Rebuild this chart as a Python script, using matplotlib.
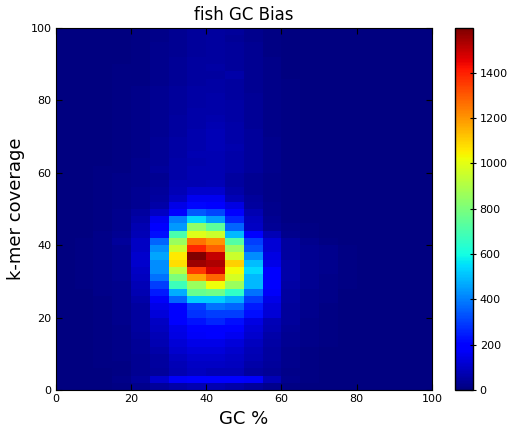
import numpy as np
import matplotlib
matplotlib.use("Agg")
from matplotlib import pyplot as plt

# GC % bins (5 wide) and k-mer coverage bins (2 wide)
gc_edges = np.arange(0, 101, 5)
cov_edges = np.arange(0, 101, 2)

# counts, one row per coverage bin, written from top (98-100) down to bottom (0-2)
counts_top_down = [
    [2, 3, 4, 6, 10, 18, 30, 40, 48, 40, 25, 12, 6, 4, 3, 2, 2, 1, 1, 1],
    [2, 3, 4, 6, 10, 18, 30, 40, 46, 38, 24, 12, 6, 4, 3, 2, 2, 1, 1, 1],
    [2, 3, 4, 7, 11, 20, 32, 44, 50, 42, 26, 13, 6, 4, 3, 2, 2, 1, 1, 1],
    [2, 3, 4, 7, 11, 20, 32, 44, 48, 42, 26, 13, 6, 4, 3, 2, 2, 1, 1, 1],
    [2, 3, 5, 7, 12, 22, 34, 46, 50, 40, 28, 14, 7, 4, 3, 2, 2, 1, 1, 1],
    [2, 3, 5, 8, 12, 22, 34, 48, 52, 44, 28, 14, 7, 4, 3, 2, 2, 1, 1, 1],
    [2, 3, 5, 8, 13, 24, 36, 48, 50, 60, 30, 15, 7, 5, 3, 2, 2, 1, 1, 1],
    [2, 3, 5, 8, 13, 24, 38, 50, 54, 46, 32, 15, 8, 5, 3, 2, 2, 1, 1, 1],
    [2, 3, 5, 8, 14, 26, 40, 52, 56, 48, 32, 16, 8, 5, 3, 2, 2, 1, 1, 1],
    [2, 3, 5, 9, 14, 26, 40, 54, 58, 50, 34, 16, 8, 5, 3, 2, 2, 1, 1, 1],
    [2, 3, 6, 9, 15, 28, 44, 56, 58, 52, 34, 17, 8, 5, 4, 2, 2, 1, 1, 1],
    [2, 3, 6, 9, 15, 28, 44, 58, 62, 54, 36, 17, 9, 5, 4, 2, 2, 1, 1, 1],
    [2, 3, 6, 10, 16, 30, 46, 60, 66, 56, 36, 18, 9, 5, 4, 2, 2, 1, 1, 1],
    [2, 3, 6, 10, 16, 30, 48, 62, 70, 58, 38, 18, 9, 6, 4, 2, 2, 1, 1, 1],
    [2, 4, 6, 10, 17, 32, 50, 66, 76, 60, 40, 19, 10, 6, 4, 3, 2, 1, 1, 1],
    [2, 4, 7, 11, 18, 34, 52, 64, 78, 62, 40, 20, 10, 6, 4, 3, 2, 1, 1, 1],
    [2, 4, 7, 11, 18, 34, 54, 68, 76, 64, 42, 20, 10, 6, 4, 3, 2, 1, 1, 1],
    [2, 4, 7, 12, 19, 36, 56, 70, 70, 62, 42, 21, 10, 6, 4, 3, 2, 1, 1, 1],
    [3, 4, 7, 12, 20, 38, 58, 68, 72, 60, 44, 22, 11, 7, 4, 3, 2, 1, 1, 1],
    [3, 4, 8, 13, 22, 40, 62, 72, 74, 58, 44, 22, 11, 7, 4, 3, 2, 1, 1, 1],
    [3, 5, 8, 14, 24, 30, 60, 70, 70, 45, 28, 14, 8, 5, 4, 3, 2, 1, 1, 1],
    [3, 5, 8, 14, 24, 35, 70, 75, 80, 50, 30, 15, 8, 5, 4, 3, 2, 1, 1, 1],
    [3, 5, 9, 15, 26, 40, 80, 110, 110, 60, 32, 16, 8, 5, 4, 3, 2, 1, 1, 1],
    [3, 5, 9, 16, 28, 45, 100, 160, 160, 80, 40, 18, 9, 6, 4, 3, 2, 1, 1, 1],
    [3, 6, 10, 18, 32, 60, 150, 210, 200, 140, 50, 20, 10, 6, 4, 3, 2, 1, 1, 1],
    [4, 6, 11, 20, 50, 100, 200, 340, 310, 180, 70, 25, 11, 7, 5, 3, 2, 1, 1, 1],
    [4, 6, 12, 22, 60, 160, 400, 540, 450, 260, 90, 30, 12, 7, 5, 3, 2, 1, 1, 1],
    [4, 7, 13, 25, 70, 190, 440, 840, 740, 360, 100, 35, 14, 8, 5, 3, 2, 1, 1, 1],
    [4, 7, 14, 30, 80, 220, 700, 990, 950, 490, 180, 80, 20, 9, 6, 4, 2, 1, 1, 1],
    [5, 8, 15, 40, 100, 360, 860, 1260, 1200, 720, 300, 120, 50, 20, 8, 4, 3, 2, 1, 1],
    [5, 8, 15, 30, 100, 420, 950, 1390, 1290, 860, 330, 120, 50, 30, 20, 8, 4, 2, 1, 1],
    [5, 8, 16, 30, 110, 460, 1060, 1598, 1500, 950, 420, 140, 50, 30, 20, 8, 4, 2, 1, 1],
    [5, 8, 16, 30, 110, 420, 1080, 1560, 1530, 1100, 500, 150, 60, 30, 20, 8, 4, 2, 1, 1],
    [5, 8, 16, 30, 100, 420, 920, 1360, 1480, 1030, 540, 190, 60, 30, 20, 8, 4, 2, 1, 1],
    [5, 8, 15, 30, 90, 380, 800, 1180, 1280, 970, 490, 180, 60, 30, 18, 8, 4, 2, 1, 1],
    [5, 8, 15, 25, 80, 300, 680, 860, 1020, 860, 490, 180, 55, 28, 16, 8, 4, 2, 1, 1],
    [4, 7, 14, 25, 70, 240, 470, 760, 780, 650, 380, 170, 50, 25, 15, 7, 4, 2, 1, 1],
    [4, 7, 13, 25, 60, 170, 360, 520, 520, 470, 300, 150, 45, 22, 14, 7, 3, 2, 1, 1],
    [4, 7, 12, 20, 50, 150, 190, 300, 380, 360, 240, 130, 40, 20, 12, 6, 3, 2, 1, 1],
    [4, 6, 12, 20, 50, 130, 190, 280, 300, 300, 220, 120, 40, 20, 12, 6, 3, 2, 1, 1],
    [4, 6, 11, 20, 50, 100, 180, 230, 260, 220, 140, 80, 40, 18, 10, 5, 3, 2, 1, 1],
    [4, 6, 10, 18, 45, 90, 150, 190, 200, 180, 120, 70, 35, 16, 9, 5, 3, 2, 1, 1],
    [3, 5, 10, 17, 42, 80, 140, 170, 180, 160, 110, 60, 30, 15, 8, 4, 3, 2, 1, 1],
    [3, 5, 9, 16, 38, 70, 120, 150, 150, 130, 90, 55, 28, 14, 8, 4, 3, 2, 1, 1],
    [3, 5, 9, 15, 35, 60, 110, 130, 130, 110, 80, 50, 25, 12, 7, 4, 2, 1, 1, 1],
    [3, 5, 8, 14, 32, 50, 90, 110, 110, 100, 70, 45, 22, 11, 6, 4, 2, 1, 1, 1],
    [3, 4, 8, 13, 30, 50, 80, 100, 100, 90, 60, 40, 20, 10, 6, 3, 2, 1, 1, 1],
    [2, 4, 7, 12, 28, 40, 70, 90, 80, 80, 50, 35, 18, 9, 5, 3, 2, 1, 1, 1],
    [2, 4, 7, 14, 40, 110, 170, 200, 200, 190, 170, 80, 25, 10, 5, 3, 2, 1, 1, 1],
    [2, 3, 6, 10, 22, 40, 60, 70, 70, 60, 40, 25, 12, 6, 4, 2, 2, 1, 1, 1],
]
counts = np.flipud(np.array(counts_top_down))

fig = plt.figure(figsize=(5.07, 4.28), dpi=100)
ax = fig.add_axes([0.110, 0.0888, 0.742, 0.8458])
cax = fig.add_axes([0.897, 0.0888, 0.0355, 0.8458])

mesh = ax.pcolormesh(gc_edges, cov_edges, counts, cmap="jet", shading="flat")
ax.set_xlim(0, 100)
ax.set_ylim(0, 100)
ax.set_xticks(range(0, 101, 20))
ax.set_yticks(range(0, 101, 20))
ax.tick_params(direction="in", top=True, right=True, labelsize=8, length=4, pad=3)

ax.set_title("fish GC Bias", fontsize=12)
ax.set_xlabel("GC %", fontsize=13)
ax.set_ylabel("k-mer coverage", fontsize=13)

cb = fig.colorbar(mesh, cax=cax)
cb.set_ticks(range(0, 1401, 200))
cb.ax.tick_params(direction="inout", labelsize=8, length=4, pad=3)
cb.outline.set_linewidth(1)

fig.savefig("out.png", dpi=100)
